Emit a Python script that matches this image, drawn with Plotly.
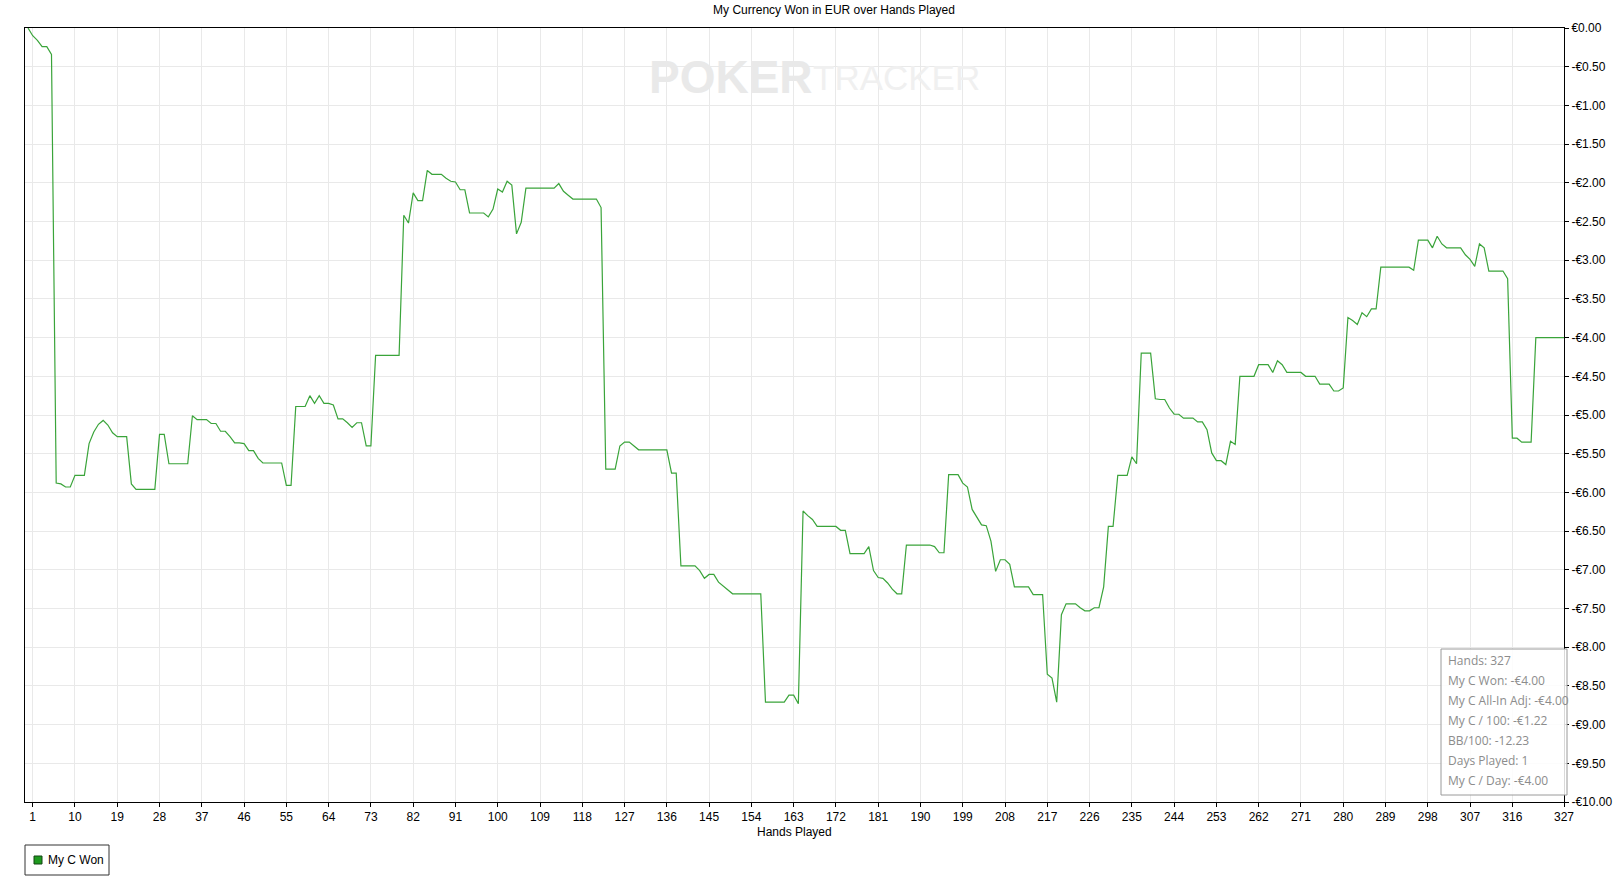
import plotly.graph_objects as go

# ---------------- data ----------------
won = [
    0.00, -0.10, -0.16, -0.24, -0.24, -0.34, -5.88, -5.89, -5.93, -5.93,
    -5.78, -5.78, -5.78, -5.37, -5.22, -5.12, -5.07, -5.13, -5.23, -5.28,
    -5.28, -5.28, -5.89, -5.96, -5.96, -5.96, -5.96, -5.96, -5.25, -5.25,
    -5.63, -5.63, -5.63, -5.63, -5.63, -5.01, -5.06, -5.06, -5.06, -5.11,
    -5.11, -5.21, -5.21, -5.28, -5.36, -5.36, -5.37, -5.46, -5.46, -5.56,
    -5.62, -5.62, -5.62, -5.62, -5.62, -5.91, -5.91, -4.89, -4.89, -4.89,
    -4.75, -4.85, -4.75, -4.85, -4.85, -4.87, -5.05, -5.05, -5.10, -5.16,
    -5.10, -5.10, -5.40, -5.40, -4.23, -4.23, -4.23, -4.23, -4.23, -4.23,
    -2.42, -2.52, -2.13, -2.23, -2.23, -1.84, -1.89, -1.89, -1.89, -1.94,
    -1.98, -1.99, -2.09, -2.09, -2.39, -2.39, -2.39, -2.39, -2.44, -2.34,
    -2.08, -2.12, -1.98, -2.03, -2.66, -2.51, -2.07, -2.07, -2.07, -2.07,
    -2.07, -2.07, -2.07, -2.01, -2.11, -2.16, -2.21, -2.21, -2.21, -2.21,
    -2.21, -2.21, -2.32, -5.70, -5.70, -5.70, -5.40, -5.35, -5.35, -5.40,
    -5.45, -5.45, -5.45, -5.45, -5.45, -5.45, -5.45, -5.75, -5.75, -6.95,
    -6.95, -6.95, -6.95, -7.01, -7.11, -7.06, -7.06, -7.16, -7.21, -7.25,
    -7.31, -7.31, -7.31, -7.31, -7.31, -7.31, -7.31, -8.71, -8.71, -8.71,
    -8.71, -8.71, -8.62, -8.62, -8.73, -6.24, -6.30, -6.35, -6.44, -6.44,
    -6.44, -6.44, -6.44, -6.49, -6.49, -6.79, -6.79, -6.79, -6.79, -6.70,
    -7.01, -7.10, -7.11, -7.17, -7.25, -7.31, -7.31, -6.68, -6.68, -6.68,
    -6.68, -6.68, -6.68, -6.70, -6.78, -6.78, -5.77, -5.77, -5.77, -5.88,
    -5.93, -6.22, -6.33, -6.42, -6.43, -6.63, -7.02, -6.87, -6.87, -6.93,
    -7.22, -7.22, -7.22, -7.22, -7.32, -7.32, -7.32, -8.35, -8.40, -8.71,
    -7.58, -7.44, -7.44, -7.44, -7.49, -7.53, -7.53, -7.49, -7.49, -7.22,
    -6.44, -6.44, -5.78, -5.78, -5.78, -5.54, -5.63, -4.20, -4.20, -4.20,
    -4.79, -4.80, -4.80, -4.91, -4.99, -4.99, -5.04, -5.04, -5.04, -5.09,
    -5.09, -5.19, -5.49, -5.59, -5.59, -5.64, -5.34, -5.38, -4.50, -4.50,
    -4.50, -4.50, -4.35, -4.35, -4.35, -4.45, -4.30, -4.35, -4.45, -4.45,
    -4.45, -4.45, -4.50, -4.50, -4.50, -4.60, -4.60, -4.60, -4.69, -4.69,
    -4.65, -3.74, -3.78, -3.83, -3.68, -3.73, -3.63, -3.63, -3.09, -3.09,
    -3.09, -3.09, -3.09, -3.09, -3.09, -3.13, -2.74, -2.74, -2.74, -2.84,
    -2.69, -2.79, -2.84, -2.84, -2.84, -2.84, -2.93, -2.99, -3.08, -2.79,
    -2.84, -3.14, -3.14, -3.14, -3.14, -3.24, -5.30, -5.30, -5.35, -5.35,
    -5.35, -4.00, -4.00, -4.00, -4.00, -4.00, -4.00, -4.00,
]
hands = list(range(len(won)))

x_tick_vals = [1, 10, 19, 28, 37, 46, 55, 64, 73, 82, 91, 100, 109, 118, 127,
               136, 145, 154, 163, 172, 181, 190, 199, 208, 217, 226, 235,
               244, 253, 262, 271, 280, 289, 298, 307, 316, 327]
y_tick_vals = [0.0, -0.5, -1.0, -1.5, -2.0, -2.5, -3.0, -3.5, -4.0, -4.5, -5.0,
               -5.5, -6.0, -6.5, -7.0, -7.5, -8.0, -8.5, -9.0, -9.5, -10.0]
y_tick_text = ["€0.00", "-€0.50", "-€1.00", "-€1.50", "-€2.00", "-€2.50",
               "-€3.00", "-€3.50", "-€4.00", "-€4.50", "-€5.00", "-€5.50",
               "-€6.00", "-€6.50", "-€7.00", "-€7.50", "-€8.00", "-€8.50",
               "-€9.00", "-€9.50", "-€10.00"]

stats_lines = ["Hands: 327", "My C Won: -€4.00", "My C All-In Adj: -€4.00",
               "My C / 100: -€1.22", "BB/100: -12.23", "Days Played: 1",
               "My C / Day: -€4.00"]

title_text = "My Currency Won in EUR over Hands Played"
x_title = "Hands Played"
series_name = "My C Won"

# ---------------- layout geometry (pixels) ----------------
W, H = 1623, 892
L, R, T, B = 25, 1564, 28, 802
pw, ph = R - L, B - T


def px(x):
    return (x - L) / pw


def py(y):
    return (B - y) / ph


FONT = "Liberation Sans, Arial, sans-serif"
LINE_GREEN = "#3aa43a"

fig = go.Figure()
fig.add_trace(go.Scatter(
    x=hands, y=won, mode="lines", name=series_name, showlegend=False,
    line=dict(color=LINE_GREEN, width=1.2), hoverinfo="x+y"))

axis_common = dict(showline=True, linecolor="#000000", linewidth=1,
                   mirror=True, showgrid=True, gridcolor="#e9e9e9",
                   gridwidth=1, zeroline=False, ticks="outside", ticklen=4,
                   tickcolor="#000000",
                   tickfont=dict(family=FONT, size=12, color="#000000"))

fig.update_xaxes(range=[-0.64, 327.0], tickmode="array",
                 tickvals=x_tick_vals, **axis_common)
fig.update_yaxes(range=[-10, 0], side="right", tickmode="array",
                 tickvals=y_tick_vals, ticktext=y_tick_text, **axis_common)

annotations = [
    dict(text=x_title, xref="paper", yref="paper", x=0.5, y=py(832),
         xanchor="center", yanchor="middle", showarrow=False,
         font=dict(family=FONT, size=12, color="#000000")),
    # watermark
    dict(text="<b>POKER</b>", xref="paper", yref="paper", x=px(647),
         y=py(77), xanchor="left", yanchor="middle", showarrow=False,
         font=dict(family="Liberation Sans Narrow, Arial Narrow, sans-serif",
                   size=46, color="#e9e9e9")),
    dict(text="TRACKER", xref="paper", yref="paper", x=px(811),
         y=py(77), xanchor="left", yanchor="middle", showarrow=False,
         font=dict(family="Liberation Sans Narrow, Arial Narrow, sans-serif",
                   size=35, color="#f0f0f0")),
    # manual legend label
    dict(text=series_name, xref="paper", yref="paper", x=px(46),
         y=py(860), xanchor="left", yanchor="middle", showarrow=False,
         font=dict(family=FONT, size=12, color="#000000")),
]
for i, line in enumerate(stats_lines):
    annotations.append(dict(
        text=line, xref="paper", yref="paper", x=px(1446), y=py(660 + 20 * i),
        xanchor="left", yanchor="middle", showarrow=False,
        font=dict(family="Open Sans, Noto Sans, sans-serif", size=12,
                  color="#8c8c8c")))

shapes = [
    dict(type="rect", xref="paper", yref="paper", x0=px(1441),
         x1=px(1567), y0=py(795), y1=py(649),
         line=dict(color="#9a9a9a", width=1),
         fillcolor="rgba(255,255,255,0.85)", layer="above"),
    # legend box and swatch
    dict(type="rect", xref="paper", yref="paper", x0=px(25), x1=px(109),
         y0=py(875), y1=py(845), line=dict(color="#333333", width=1),
         fillcolor="#ffffff", layer="above"),
    dict(type="rect", xref="paper", yref="paper", x0=px(34), x1=px(42),
         y0=py(864), y1=py(856), line=dict(color="#124412", width=1),
         fillcolor="#1e9a1e", layer="above"),
]

fig.update_layout(
    width=W, height=H,
    margin=dict(l=L, r=W - R, t=T, b=H - B, pad=0),
    paper_bgcolor="#ffffff", plot_bgcolor="#ffffff",
    title=dict(text=title_text, x=834 / W, xref="container", xanchor="center",
               y=1 - 10 / H, yref="container", yanchor="middle",
               font=dict(family=FONT, size=12, color="#000000")),
    showlegend=False,
    annotations=annotations,
    shapes=shapes,
)

fig.write_html("out.html", include_plotlyjs=True,
               config={"displayModeBar": False},
               post_script="document.body.style.margin='0';"
                           "document.body.style.overflow='hidden';")
